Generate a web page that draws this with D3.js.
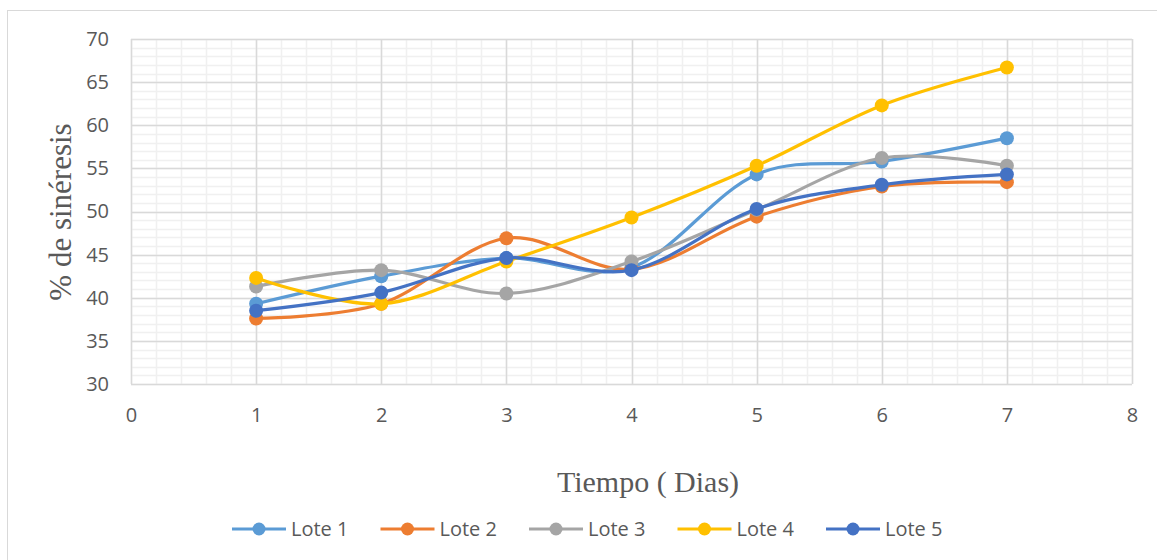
<!DOCTYPE html>
<html>
<head>
<meta charset="utf-8">
<script src="https://cdn.jsdelivr.net/npm/d3@7"></script>
<style>
  body { margin: 0; background: #fff; }
  svg { display: block; }
</style>
</head>
<body>
<svg width="1157" height="560"></svg>
<script>
// values
const days = [1, 2, 3, 4, 5, 6, 7];
const seriesNames = ["Lote 1", "Lote 2", "Lote 3", "Lote 4", "Lote 5"];
const lote1 = [39.3, 42.5, 44.6, 43.5, 54.3, 55.8, 58.5];
const lote2 = [37.6, 39.3, 46.9, 43.3, 49.4, 52.9, 53.4];
const lote3 = [41.3, 43.2, 40.5, 44.2, 50.2, 56.2, 55.3];
const lote4 = [42.3, 39.3, 44.2, 49.3, 55.3, 62.3, 66.7];
const lote5 = [38.5, 40.6, 44.6, 43.2, 50.3, 53.1, 54.3];
const seriesColors = ["#5B9BD5", "#ED7D31", "#A5A5A5", "#FFC000", "#4472C4"];
const xTicks = [0, 1, 2, 3, 4, 5, 6, 7, 8];
const yTicks = [30, 35, 40, 45, 50, 55, 60, 65, 70];
const xTitle = "Tiempo ( Dias)";
const yTitle = "% de sinéresis";

const allSeries = [lote1, lote2, lote3, lote4, lote5];

const svg = d3.select("svg");
const textColor = "#595959";

// chart frame
svg.append("rect")
  .attr("x", 7.5).attr("y", 10.5)
  .attr("width", 1170).attr("height", 570)
  .attr("fill", "#fff")
  .attr("stroke", "#D9D9D9");

const x = d3.scaleLinear().domain([0, 8]).range([131, 1132]);
const y = d3.scaleLinear().domain([30, 70]).range([384, 39]);

// minor grid
const grid = svg.append("g");
grid.selectAll(".minor-x")
  .data(d3.range(0, 8.0001, 0.2))
  .join("line")
  .attr("x1", d => Math.round(x(d)) + 0.5).attr("x2", d => Math.round(x(d)) + 0.5)
  .attr("y1", y(30)).attr("y2", y(70))
  .attr("stroke", "#F0F0F0").attr("stroke-width", 1.5);
grid.selectAll(".minor-y")
  .data(d3.range(30, 70.0001, 1))
  .join("line")
  .attr("x1", x(0)).attr("x2", x(8))
  .attr("y1", d => Math.round(y(d)) + 0.5).attr("y2", d => Math.round(y(d)) + 0.5)
  .attr("stroke", "#F0F0F0").attr("stroke-width", 1.5);

// major grid
grid.selectAll(".major-x")
  .data(xTicks)
  .join("line")
  .attr("x1", d => Math.round(x(d)) + 0.5).attr("x2", d => Math.round(x(d)) + 0.5)
  .attr("y1", y(30)).attr("y2", y(70))
  .attr("stroke", "#D9D9D9").attr("stroke-width", 1.5);
grid.selectAll(".major-y")
  .data(yTicks)
  .join("line")
  .attr("x1", x(0)).attr("x2", x(8))
  .attr("y1", d => Math.round(y(d)) + 0.5).attr("y2", d => Math.round(y(d)) + 0.5)
  .attr("stroke", "#D9D9D9").attr("stroke-width", 1.5);

// axes (labels only, lines are the grid)
const yAxis = svg.append("g")
  .attr("transform", `translate(${ x(0) },0)`)
  .call(d3.axisLeft(y).tickValues(yTicks).tickSize(0).tickPadding(22));
const xAxis = svg.append("g")
  .attr("transform", `translate(0,${ y(30) })`)
  .call(d3.axisBottom(x).tickValues(xTicks).tickSize(0).tickPadding(24));
[xAxis, yAxis].forEach(a =>
{
  a.select(".domain").remove();
  a.selectAll("text")
    .attr("fill", textColor)
    .style("font-family", "'Open Sans', sans-serif")
    .style("font-size", "20px");
});

// axis titles
svg.append("text")
  .attr("x", 648).attr("y", 492)
  .attr("text-anchor", "middle")
  .attr("fill", textColor)
  .style("font-family", "'Liberation Serif', 'Times New Roman', serif")
  .style("font-size", "30px")
  .text(xTitle);
svg.append("text")
  .attr("transform", "translate(71,212) rotate(-90)")
  .attr("text-anchor", "middle")
  .attr("fill", textColor)
  .style("font-family", "'Liberation Serif', 'Times New Roman', serif")
  .style("font-size", "31px")
  .text(yTitle);

// series
const line = d3.line()
  .x(d => x(d[0]))
  .y(d => y(d[1]))
  .curve(d3.curveCardinal.tension(0));

allSeries.forEach((values, i) =>
{
  const pts = days.map((d, j) => [d, values[j]]);
  const g = svg.append("g");
  g.append("path")
    .attr("d", line(pts))
    .attr("fill", "none")
    .attr("stroke", seriesColors[i])
    .attr("stroke-width", 3.2)
    .attr("stroke-linecap", "round");
  g.selectAll("circle")
    .data(pts)
    .join("circle")
    .attr("cx", d => x(d[0]))
    .attr("cy", d => y(d[1]))
    .attr("r", 7)
    .attr("fill", seriesColors[i]);
});

// legend
const legend = svg.append("g");
seriesNames.forEach((name, i) =>
{
  const lx = 232 + i * 148.5;
  const ly = 529;
  legend.append("line")
    .attr("x1", lx).attr("x2", lx + 54)
    .attr("y1", ly).attr("y2", ly)
    .attr("stroke", seriesColors[i])
    .attr("stroke-width", 3.2);
  legend.append("circle")
    .attr("cx", lx + 27).attr("cy", ly)
    .attr("r", 6.5)
    .attr("fill", seriesColors[i]);
  legend.append("text")
    .attr("x", lx + 59).attr("y", ly)
    .attr("dy", "0.35em")
    .attr("fill", textColor)
    .style("font-family", "'Open Sans', sans-serif")
    .style("font-size", "20px")
    .text(name);
});
</script>
</body>
</html>
